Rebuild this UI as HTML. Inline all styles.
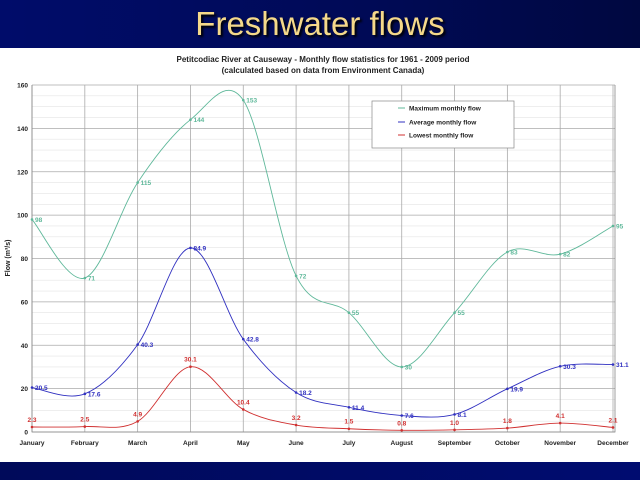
<!DOCTYPE html>
<html><head><meta charset="utf-8">
<style>
body{margin:0;width:640px;height:480px;overflow:hidden;background:#000a5a;font-family:"Liberation Sans",sans-serif}
#top{position:absolute;left:0;top:0;width:640px;height:48px;background:linear-gradient(90deg,#000c6a,#000a55 60%,#000840)}
#title{position:absolute;left:0;top:5px;width:640px;text-align:center;color:#f5d98a;font-size:33px;text-shadow:2px 2px 2px #000}
#panel{position:absolute;left:0;top:48px;width:640px;height:414px;background:#fff}
#bot{position:absolute;left:0;top:462px;width:640px;height:18px;background:linear-gradient(90deg,#000a5a,#000c70)}
</style></head><body>
<div id="top"></div>
<div id="title">Freshwater flows</div>
<div id="panel"></div>
<div id="bot"></div>
<svg id="chart" width="640" height="480" style="position:absolute;left:0;top:0" font-family="Liberation Sans, sans-serif">
<text x="323" y="62" text-anchor="middle" font-size="8" font-weight="bold" fill="#222">Petitcodiac River at Causeway - Monthly flow statistics for 1961 - 2009 period</text>
<text x="323" y="73" text-anchor="middle" font-size="8" font-weight="bold" fill="#222">(calculated based on data from Environment Canada)</text>
<g id="grid"></g><g id="series"></g>
<text transform="translate(10,258) rotate(-90)" text-anchor="middle" font-size="7" font-weight="bold" fill="#222">Flow (m³/s)</text>
<g>
<rect x="372" y="101" width="142" height="47" fill="#fff" stroke="#888" stroke-width="0.7"/>
<g><line x1="398" y1="108" x2="405" y2="108" stroke="#5fb89a"/><text x="409" y="110.5" font-size="6.5" font-weight="bold" fill="#222">Maximum monthly flow</text></g>
<g><line x1="398" y1="122" x2="405" y2="122" stroke="#3030c0"/><text x="409" y="124.5" font-size="6.5" font-weight="bold" fill="#222">Average monthly flow</text></g>
<g><line x1="398" y1="135" x2="405" y2="135" stroke="#d03030"/><text x="409" y="137.5" font-size="6.5" font-weight="bold" fill="#222">Lowest monthly flow</text></g>
</g>
</svg>
<script>
const months=["January","February","March","April","May","June","July","August","September","October","November","December"];
const maxFlow=[98,71,115,144,153,72,55,30,55,83,82,95];
const avgFlow=[20.5,17.6,40.3,84.9,42.8,18.2,11.4,7.6,8.1,19.9,30.3,31.1];
const minFlow=[2.3,2.5,4.9,30.1,10.4,3.2,1.5,0.8,1.0,1.8,4.1,2.1];
const maxLabels=["98","71","115","144","153","72","55","30","55","83","82","95"];
const avgLabels=["20.5","17.6","40.3","84.9","42.8","18.2","11.4","7.6","8.1","19.9","30.3","31.1"];
const minLabels=["2.3","2.5","4.9","30.1","10.4","3.2","1.5","0.8","1.0","1.8","4.1","2.1"];
const yTicks=[0,20,40,60,80,100,120,140,160];
const NS="http://www.w3.org/2000/svg";
const x0=32,x1=613,yb=432,yt=85,yMax=160;
const X=i=>x0+i*(x1-x0)/(months.length-1);
const Y=v=>yb-v/yMax*(yb-yt);
function mk(t,a,p){const e=document.createElementNS(NS,t);for(const k in a)e.setAttribute(k,a[k]);p.appendChild(e);return e;}
const grid=document.getElementById('grid');
for(let v=0;v<=yMax;v+=5){const l=mk('line',{x1:x0,x2:x1+2,y1:Y(v),y2:Y(v),stroke:v%20==0?'#aaa':'#e4e4e4','stroke-width':v%20==0?0.8:0.6},grid);

}
yTicks.forEach(v=>{const t=mk('text',{x:x0-4,y:Y(v)+2.5,'text-anchor':'end','font-size':6.5,'font-weight':'bold',fill:'#222'},grid);t.textContent=v;

});
months.forEach((m,i)=>{const l=mk('line',{x1:X(i),x2:X(i),y1:yt,y2:yb,stroke:'#aaa','stroke-width':0.8},grid);


const t=mk('text',{x:X(i),y:445,'text-anchor':'middle','font-size':6.5,'font-weight':'bold',fill:'#222'},grid);t.textContent=m;

});
const ax=mk('path',{d:`M${x0} ${yt}V${yb}H${x1+2}V${yt}`,fill:'none',stroke:'#888','stroke-width':0.8},grid);


function spline(vals){const p=vals.map((v,i)=>[X(i),Y(v)]);let d=`M${p[0][0]} ${p[0][1]}`;
for(let i=0;i<p.length-1;i++){const a=p[Math.max(i-1,0)],b=p[i],c=p[i+1],e=p[Math.min(i+2,p.length-1)];
d+=`C${b[0]+(c[0]-a[0])/6} ${b[1]+(c[1]-a[1])/6} ${c[0]-(e[0]-b[0])/6} ${c[1]-(e[1]-b[1])/6} ${c[0]} ${c[1]}`;}return d;}
const sg=document.getElementById('series');
function series(vals,labels,col,name,above){const g=mk('g',{},sg);


mk('path',{d:spline(vals),fill:'none',stroke:col,'stroke-width':0.9},g);
vals.forEach((v,i)=>{const c=mk('circle',{cx:X(i),cy:Y(v),r:1.3,fill:col},g);


const t=mk('text',above?{x:X(i),y:Y(v)-5,'text-anchor':'middle','font-size':6.5,'font-weight':'bold',fill:col}:{x:X(i)+3,y:Y(v)+2.5,'font-size':6.5,'font-weight':'bold',fill:col},g);
t.textContent=labels[i];

});}
series(maxFlow,maxLabels,'#5fb89a','max-flow-series',false);
series(avgFlow,avgLabels,'#3030c0','avg-flow-series',false);
series(minFlow,minLabels,'#d03030','min-flow-series',true);
</script>
</body></html>
